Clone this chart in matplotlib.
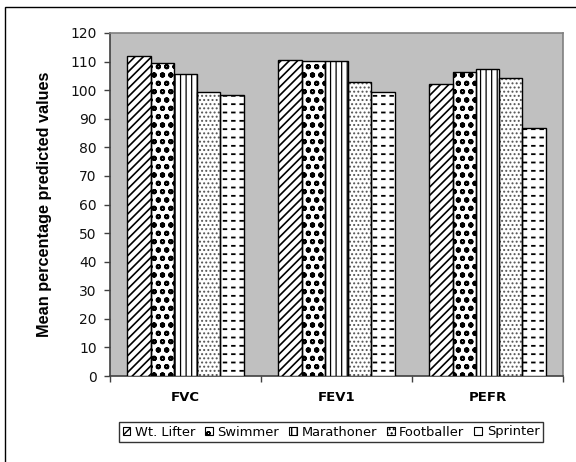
import matplotlib
matplotlib.use("Agg")
import matplotlib.pyplot as plt
import matplotlib.patches as mpatches
from matplotlib.ticker import FixedLocator, NullFormatter
import numpy as np

categories = ["FVC", "FEV1", "PEFR"]
groups = ["Wt. Lifter", "Swimmer", "Marathoner", "Footballer", "Sprinter"]
wt_lifter = [111.9, 110.7, 102.1]
swimmer = [109.6, 110.3, 106.2]
marathoner = [105.8, 110.3, 107.3]
footballer = [99.4, 102.7, 104.3]
sprinter = [98.4, 99.5, 86.6]
series = [wt_lifter, swimmer, marathoner, footballer, sprinter]
yticks = list(range(0, 121, 10))

# (hatch, hatch colour, hatch linewidth) layers for each series
styles = [
    [("////", "black", 1.2)],
    [("oo", "black", 1.4)],
    [("|||", "black", 0.9)],
    [("....", "#555555", 0.9)],
    [("--", "black", 1.3), ("||", "white", 2.8)],
]

plt.rcParams["font.family"] = ["DejaVu Sans"]

fig = plt.figure(figsize=(5.76, 4.62), dpi=100)
ax = fig.add_axes([110/576, 1-376/462, (563-110)/576, (376-33)/462])
ax.set_facecolor("#c0c0c0")

x = np.arange(len(categories))
bw = 0.1545


def hatched_bar(xpos, vals, hatch, color, lw, face, z):
    with plt.rc_context({"hatch.linewidth": lw}):
        bars = ax.bar(xpos, vals, width=bw, facecolor=face, edgecolor=color,
                      hatch=hatch, linewidth=0, zorder=z)
        for b in bars:
            if hasattr(b, "set_hatch_linewidth"):
                b.set_hatch_linewidth(lw)
    return bars


for i, (vals, layers) in enumerate(zip(series, styles)):
    xpos = x + (i - 2) * bw
    for j, (h, c, lw) in enumerate(layers):
        hatched_bar(xpos, vals, h, c, lw, "white" if j == 0 else "none", 3 + j * 0.1)
    ax.bar(xpos, vals, width=bw, facecolor="none", edgecolor="black",
           linewidth=1.0, zorder=4)

ax.set_xlim(-0.5, 2.5)
ax.set_ylim(0, 120)
ax.set_yticks(yticks)
ax.tick_params(axis="y", labelsize=10, length=4, width=1, color="#404040", pad=5.5,
               labelcolor="#111111")
ax.set_xticks(x)
ax.set_xticklabels(categories, fontweight="bold", fontsize=9.5)
ax.tick_params(axis="x", length=0, pad=10.5)
ax.xaxis.set_minor_locator(FixedLocator([-0.5, 0.5, 1.5, 2.5]))
ax.xaxis.set_minor_formatter(NullFormatter())
ax.tick_params(axis="x", which="minor", length=4, width=1, color="#404040")
for s in ["top", "right"]:
    ax.spines[s].set_color("#808080")
    ax.spines[s].set_linewidth(1.2)
for s in ["left", "bottom"]:
    ax.spines[s].set_color("#404040")
    ax.spines[s].set_linewidth(1.2)

ax.set_ylabel("Mean percentage predicted values", fontweight="bold", fontsize=11.7,
              family=["Liberation Sans Narrow", "Liberation Sans", "DejaVu Sans"], labelpad=13)

handles = []
for layers, name in zip(styles, groups):
    h0 = layers[0][0] if len(layers) == 1 else ""
    handles.append(mpatches.Patch(facecolor="white", edgecolor="black", hatch=h0,
                                  linewidth=0.8, label=name))
leg = fig.legend(handles=handles, loc="center", bbox_to_anchor=(331/576, 1-432/462), ncol=5,
                 fontsize=9.4, frameon=True, fancybox=False, edgecolor="black",
                 handlelength=0.6, handleheight=0.6, handletextpad=0.35,
                 columnspacing=0.75, borderpad=0.25, borderaxespad=0)
leg.get_frame().set_linewidth(1.0)

border = mpatches.Rectangle((5/576, -0.2), 1.2, 0.2 + 1 - 7/462, transform=fig.transFigure,
                            fill=False, edgecolor="black", linewidth=1.0)
fig.patches.append(border)

fig.savefig("out.png", dpi=100, facecolor="white")
